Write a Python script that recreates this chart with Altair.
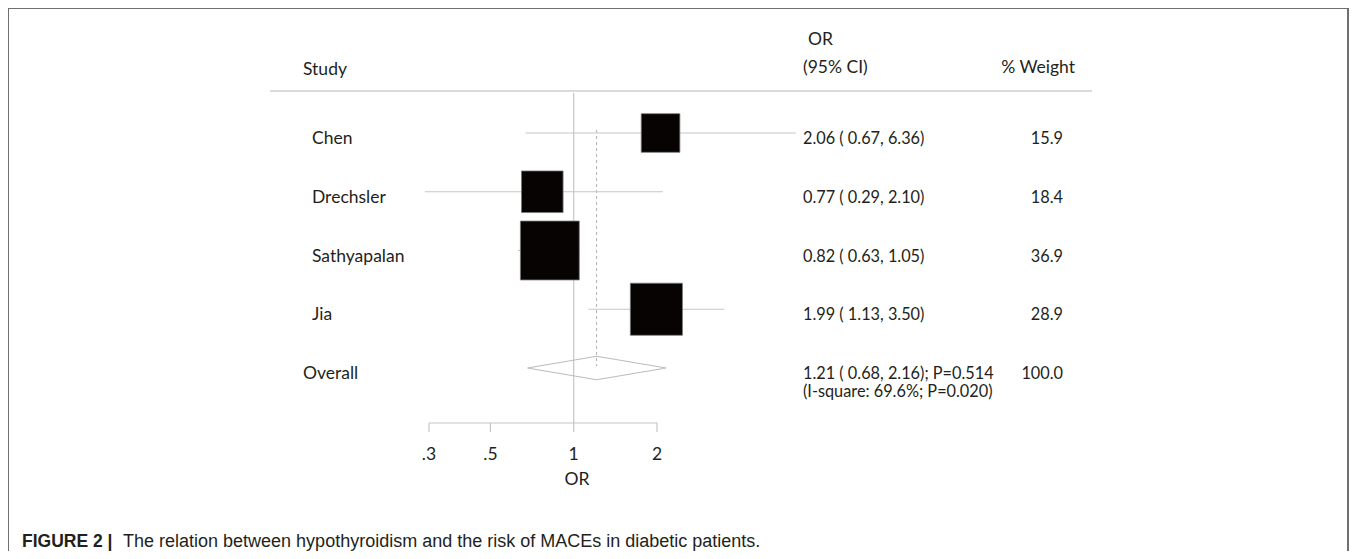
import altair as alt
import pandas as pd

# ---------------- data ----------------
studies = ["Chen", "Drechsler", "Sathyapalan", "Jia"]
or_est = [2.06, 0.77, 0.82, 1.99]
ci_low = [0.67, 0.29, 0.63, 1.13]
ci_high = [6.36, 2.10, 1.05, 3.50]
weights = [15.9, 18.4, 36.9, 28.9]

overall_label = "Overall"
overall_est = 1.21
overall_low = 0.68
overall_high = 2.16
overall_p = "0.514"
i_square = "69.6%"
het_p = "0.020"
overall_weight = 100.0

tick_values = [0.3, 0.5, 1, 2]
tick_labels = [".3", ".5", "1", "2"]

caption_bold = "FIGURE 2 |"
caption_text = "The relation between hypothyroidism and the risk of MACEs in diabetic patients."

# ---------------- tables ----------------
df = pd.DataFrame({
    "row": list(range(len(studies))),
    "study": studies,
    "est": or_est,
    "lo": ci_low,
    "hi": ci_high,
    "w": weights,
})
df["ci_text"] = [f"{e:.2f} ( {l:.2f}, {h:.2f})" for e, l, h in zip(or_est, ci_low, ci_high)]
df["w_text"] = [f"{w:.1f}" for w in weights]

ov_row = len(studies)
df_ov = pd.DataFrame({
    "row": [ov_row],
    "label": [overall_label],
    "est": [overall_est],
    "line1": [f"{overall_est:.2f} ( {overall_low:.2f}, {overall_high:.2f}); P={overall_p}"],
    "line2": [f"(I-square: {i_square}; P={het_p})"],
    "w_text": [f"{overall_weight:.1f}"],
})

half = 0.2
df_dia = pd.DataFrame({
    "x": [overall_low, overall_est, overall_high, overall_est, overall_low],
    "row": [ov_row, ov_row - half, ov_row, ov_row + half, ov_row],
    "o": [0, 1, 2, 3, 4],
})

df_ticks = pd.DataFrame({"t": tick_values, "lab": tick_labels})
df_axis = pd.DataFrame({"a": [min(tick_values)], "b": [max(tick_values)]})
df_null = pd.DataFrame({"x": [1.0]})
dummy = pd.DataFrame({"d": [0]})

# ---------------- styles ----------------
FONT = "Lato"
FS = 17.5      # labels / headers
FSN = 16.3     # numeric columns
TXT = "#231f20"
LINE = "#c6c6c6"

xs = alt.Scale(type="log", domain=[0.3, 2], range=[421, 649], nice=False)
ys = alt.Scale(domain=[0, 4], range=[125, 360], nice=False, zero=False)


def text_at(txt, x, y, align="left", size=FS, weight="normal", font=FONT, baseline="middle"):
    return alt.Chart(dummy).mark_text(
        text=txt, align=align, baseline=baseline, fontSize=size,
        fontWeight=weight, font=font, color=TXT,
    ).encode(x=alt.value(x), y=alt.value(y))


layers = []

# frame (left, top, right)
frame_col = "#707070"
layers.append(alt.Chart(dummy).mark_rule(color=frame_col, strokeWidth=2).encode(
    x=alt.value(0), y=alt.value(0), y2=alt.value(543)))
layers.append(alt.Chart(dummy).mark_rule(color=frame_col, strokeWidth=2).encode(
    x=alt.value(0), x2=alt.value(1340), y=alt.value(0)))
layers.append(alt.Chart(dummy).mark_rule(color=frame_col, strokeWidth=2).encode(
    x=alt.value(1340), y=alt.value(0), y2=alt.value(543)))

# header line
layers.append(alt.Chart(dummy).mark_rule(color="#cfcfcf", strokeWidth=1.5).encode(
    x=alt.value(262), x2=alt.value(1084), y=alt.value(83)))

# headers
layers.append(text_at("Study", 295, 62))
layers.append(text_at("OR", 800, 32))
layers.append(text_at("(95% CI)", 795, 60))
layers.append(text_at("% Weight", 1067, 60, align="right"))

# null line at OR = 1
layers.append(alt.Chart(df_null).mark_rule(color=LINE, strokeWidth=1.2).encode(
    x=alt.X("x:Q", scale=xs, axis=None), y=alt.value(85), y2=alt.value(415)))

# dashed overall line
layers.append(alt.Chart(df_ov).mark_rule(color="#b0b0b0", strokeWidth=1, strokeDash=[3, 3]).encode(
    x=alt.X("est:Q", scale=xs, axis=None), y=alt.value(122), y2=alt.value(358)))

# confidence intervals
layers.append(alt.Chart(df).mark_rule(color=LINE, strokeWidth=1.2).encode(
    x=alt.X("lo:Q", scale=xs, axis=None), x2="hi:Q",
    y=alt.Y("row:Q", scale=ys, axis=None)))

# weight squares
layers.append(alt.Chart(df).mark_point(shape="square", filled=True, fill="#070303",
                                        stroke="#7a7a7a", strokeWidth=0.8, opacity=1).encode(
    x=alt.X("est:Q", scale=xs, axis=None),
    y=alt.Y("row:Q", scale=ys, axis=None),
    size=alt.Size("w:Q", scale=alt.Scale(domain=[0, 100], range=[0, 9400]), legend=None)))

# overall diamond
layers.append(alt.Chart(df_dia).mark_line(color="#bcbcbc", strokeWidth=1.2).encode(
    x=alt.X("x:Q", scale=xs, axis=None),
    y=alt.Y("row:Q", scale=ys, axis=None),
    order="o:Q"))

# x axis drawn from the scale
layers.append(alt.Chart(df_axis).mark_rule(color=LINE, strokeWidth=1.2).encode(
    x=alt.X("a:Q", scale=xs, axis=None), x2="b:Q", y=alt.value(415)))
layers.append(alt.Chart(df_ticks).mark_rule(color=LINE, strokeWidth=1.2).encode(
    x=alt.X("t:Q", scale=xs, axis=None), y=alt.value(415), y2=alt.value(424)))
layers.append(alt.Chart(df_ticks).mark_text(font=FONT, fontSize=FS, color=TXT, baseline="middle").encode(
    x=alt.X("t:Q", scale=xs, axis=None), y=alt.value(447), text="lab:N"))
layers.append(text_at("OR", 569, 472, align="center"))

# study labels and values
layers.append(alt.Chart(df).mark_text(font=FONT, fontSize=FS, color=TXT, align="left",
                                       baseline="middle", dy=6).encode(
    x=alt.value(304), y=alt.Y("row:Q", scale=ys, axis=None), text="study:N"))
layers.append(alt.Chart(df).mark_text(font=FONT, fontSize=FSN, color=TXT, align="left",
                                       baseline="middle", dy=6).encode(
    x=alt.value(795), y=alt.Y("row:Q", scale=ys, axis=None), text="ci_text:N"))
layers.append(alt.Chart(df).mark_text(font=FONT, fontSize=FSN, color=TXT, align="right",
                                       baseline="middle", dy=6).encode(
    x=alt.value(1055), y=alt.Y("row:Q", scale=ys, axis=None), text="w_text:N"))

# overall labels
layers.append(alt.Chart(df_ov).mark_text(font=FONT, fontSize=FS, color=TXT, align="left",
                                          baseline="middle", dy=6).encode(
    x=alt.value(295), y=alt.Y("row:Q", scale=ys, axis=None), text="label:N"))
layers.append(alt.Chart(df_ov).mark_text(font=FONT, fontSize=FSN, color=TXT, align="left",
                                          baseline="middle", dy=6).encode(
    x=alt.value(795), y=alt.Y("row:Q", scale=ys, axis=None), text="line1:N"))
layers.append(alt.Chart(df_ov).mark_text(font=FONT, fontSize=FSN, color=TXT, align="left",
                                          baseline="middle", dy=24).encode(
    x=alt.value(795), y=alt.Y("row:Q", scale=ys, axis=None), text="line2:N"))
layers.append(alt.Chart(df_ov).mark_text(font=FONT, fontSize=FSN, color=TXT, align="right",
                                          baseline="middle", dy=6).encode(
    x=alt.value(1055), y=alt.Y("row:Q", scale=ys, axis=None), text="w_text:N"))

# caption
layers.append(text_at(caption_bold, 14, 539, size=17.5, weight="bold",
                      font="Liberation Sans", baseline="alphabetic"))
layers.append(text_at(caption_text, 115, 539, size=18,
                      font="Liberation Sans", baseline="alphabetic"))

chart = alt.layer(*layers).properties(
    width=1341, height=543,
    autosize=alt.AutoSizeParams(type="none"),
    padding=0,
    background="white",
).configure_view(stroke=None)

chart.save("out.html", embed_options={"renderer": "svg", "actions": False})
